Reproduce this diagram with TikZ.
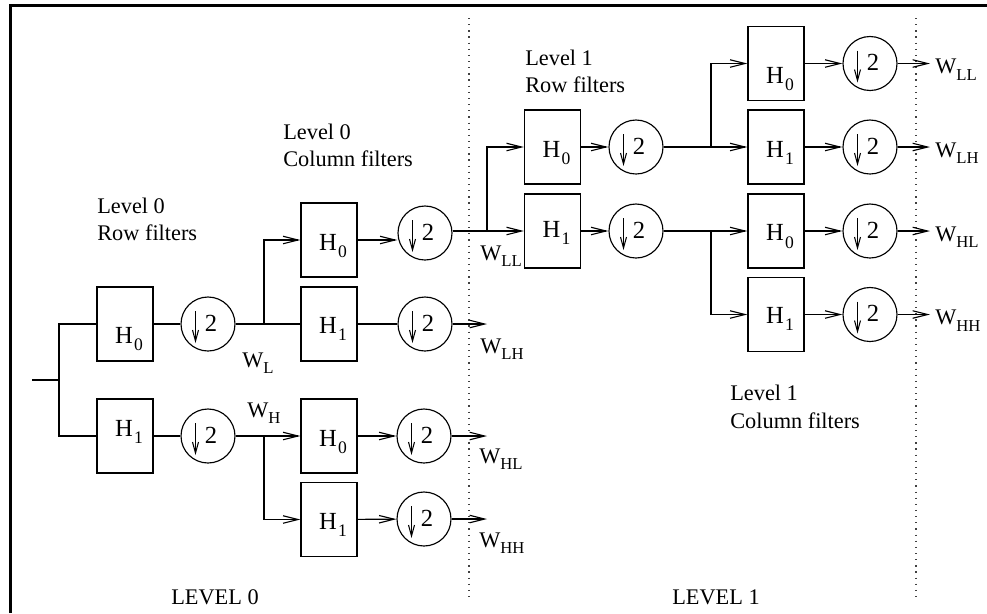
\documentclass[tikz,border=0pt]{standalone}
\usepackage{fontspec}
\setmainfont{Liberation Serif}
\usetikzlibrary{arrows.meta}
\newcommand\sbs[1]{\raisebox{-3.8pt}{\fontsize{9.5}{10}\selectfont #1}}
\newcommand\hsb[1]{\kern0.8pt\raisebox{-4.3pt}{\fontsize{10}{11}\selectfont #1}}
\begin{document}
\begin{tikzpicture}[x=0.02cm,y=-0.02cm,
  ln/.style={line width=0.65pt},
  arr/.style={ln,-{Straight Barb[length=3mm,width=1.5mm]}},
  fbox/.style={draw,ln,minimum width=1.12cm,minimum height=1.48cm,inner sep=0pt},
  dn/.style={draw,ln,circle,minimum size=1.08cm,inner sep=0pt,
    path picture={
      \draw[line width=0.6pt,-{Straight Barb[length=2.2mm,width=1.2mm]}]
        ([shift={(-12.5,-13)}]path picture bounding box.center) -- ++(0,32);
      \node[anchor=base,inner sep=0pt,font=\fontsize{14}{16}\selectfont]
        at ([shift={(3,7)}]path picture bounding box.center) {2};
    }},
  hl/.style={anchor=base,inner sep=0pt,font=\fontsize{14}{16}\selectfont},
  txt/.style={anchor=base west,inner sep=0pt,font=\fontsize{12.7}{15}\selectfont},
  ctxt/.style={anchor=base,inner sep=0pt,font=\fontsize{12.7}{15}\selectfont},
  dots/.style={line width=0.75pt,dash pattern=on 0.7pt off 2.8pt,black!75}
]
\useasboundingbox (0,0) rectangle (987,613);
% frame
\draw[line width=1.7pt,line join=miter] (10.5,613) -- (10.5,5.3) -- (987,5.3);
% level separators
\draw[dots] (469,18) -- (469,598);
\draw[dots] (916,18) -- (916,598);

% ---------- level 0 row filters ----------
\coordinate (inp) at (32,380);
\coordinate (j0) at (59,380);
\node[fbox] (r0) at (125,324) {};
\node[fbox] (r1) at (125,436) {};
\node[hl] at ([shift={(4,19)}]r0.center) {H\hsb{0}};
\node[hl] at ([shift={(4,0)}]r1.center) {H\hsb{1}};
\node[dn] (rc0) at (208,324) {};
\node[dn] (rc1) at (208,436) {};

% ---------- level 0 column filters ----------
\node[fbox] (c0a) at (329,240) {};
\node[fbox] (c0b) at (329,324) {};
\node[fbox] (c1a) at (329,436) {};
\node[fbox] (c1b) at (329,519.5) {};
\node[hl] at ([shift={(4,10)}]c0a.center) {H\hsb{0}};
\node[hl] at ([shift={(4,9)}]c0b.center) {H\hsb{1}};
\node[hl] at ([shift={(4,10)}]c1a.center) {H\hsb{0}};
\node[hl] at ([shift={(4,9.5)}]c1b.center) {H\hsb{1}};
\node[dn] (cc0a) at (425,233) {};
\node[dn] (cc0b) at (425,324) {};
\node[dn] (cc1a) at (424,436) {};
\node[dn] (cc1b) at (424,519) {};
\coordinate (jL) at (264,324);
\coordinate (jH) at (264,436);
\coordinate (oLH) at (487,324);
\coordinate (oHL) at (487,436);
\coordinate (oHH) at (487,519);

% ---------- level 1 row filters ----------
\coordinate (j1) at (487,231);
\node[fbox] (q0) at (552.5,147) {};
\node[fbox] (q1) at (552.5,231) {};
\node[hl] at ([shift={(4,10)}]q0.center) {H\hsb{0}};
\node[hl] at ([shift={(4,6)}]q1.center) {H\hsb{1}};
\node[dn] (qc0) at (636,147) {};
\node[dn] (qc1) at (636,231) {};
\coordinate (j2) at (711,147);
\coordinate (j3) at (711,231);

% ---------- level 1 column filters ----------
\node[fbox] (s0) at (776,63.5) {};
\node[fbox] (s1) at (776,147) {};
\node[fbox] (s2) at (776,231) {};
\node[fbox] (s3) at (776,314.5) {};
\node[hl] at ([shift={(4,19.5)}]s0.center) {H\hsb{0}};
\node[hl] at ([shift={(4,10)}]s1.center) {H\hsb{1}};
\node[hl] at ([shift={(4,9.5)}]s2.center) {H\hsb{0}};
\node[hl] at ([shift={(4,8.5)}]s3.center) {H\hsb{1}};
\node[dn] (sc0) at (870,63.5) {};
\node[dn] (sc1) at (870,147) {};
\node[dn] (sc2) at (870,231) {};
\node[dn] (sc3) at (870,314.5) {};
\coordinate (o0) at (930,63.5);
\coordinate (o1) at (930,147);
\coordinate (o2) at (930,231);
\coordinate (o3) at (930,314.5);

% ---------- connectors ----------
\draw[ln] (inp) -- (j0);
\draw[ln] (j0) |- (r0.west);
\draw[ln] (j0) |- (r1.west);
\draw[ln] (r0) -- (rc0);
\draw[ln] (r1) -- (rc1);
\draw[ln] (rc0) -- (c0b);
\draw[arr] (jL) |- (c0a.west);
\draw[arr] (rc1) -- (c1a);
\draw[arr] (jH) |- (c1b.west);
\draw[arr] (c0a.east) -- (c0a.east -| cc0a.west);
\draw[ln] (c0b) -- (cc0b);
\draw[arr] (c1a) -- (cc1a);
\draw[arr] (c1b) -- (cc1b);
\draw[arr] (cc0b) -- (oLH);
\draw[arr] (cc1a) -- (oHL);
\draw[arr] (cc1b) -- (oHH);
\draw[arr] (cc0a.east |- j1) -- (q1.west);
\draw[arr] (j1) |- (q0.west);
\draw[arr] (q0) -- (qc0);
\draw[arr] (q1) -- (qc1);
\draw[arr] (qc0) -- (s1);
\draw[arr] (j2) |- (s0.west);
\draw[arr] (qc1) -- (s2);
\draw[arr] (j3) |- (s3.west);
\foreach \i in {0,1,2,3}{
  \draw[arr] (s\i) -- (sc\i);
  \draw[arr] (sc\i) -- (o\i);
}

% ---------- signal labels ----------
\node[txt] at (242,367) {W\sbs{L}};
\node[txt] at (247,417) {W\sbs{H}};
\node[txt] at (480,260) {W\sbs{LL}};
\node[txt] at (480,353) {W\sbs{LH}};
\node[txt] at (479,463) {W\sbs{HL}};
\node[txt] at (479,547) {W\sbs{HH}};
\node[txt] at (935,73.5) {W\sbs{LL}};
\node[txt] at (935,157) {W\sbs{LH}};
\node[txt] at (935,241) {W\sbs{HL}};
\node[txt] at (935,324.5) {W\sbs{HH}};

% ---------- stage captions ----------
\node[txt] at (97,213) {Level 0};
\node[txt] at (97,240) {Row filters};
\node[txt] at (283,139) {Level 0};
\node[txt] at (283,166) {Column filters};
\node[txt] at (525,65) {Level 1};
\node[txt] at (525,92) {Row filters};
\node[txt] at (730,400) {Level 1};
\node[txt] at (730,428) {Column filters};
\node[ctxt] at (215,604) {LEVEL 0};
\node[ctxt] at (716,604) {LEVEL 1};
\end{tikzpicture}
\end{document}
